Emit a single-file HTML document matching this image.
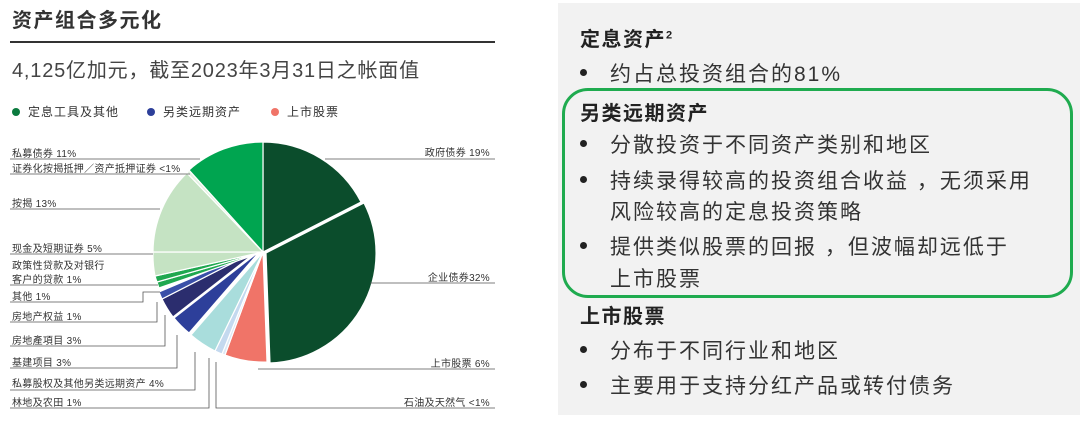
<!DOCTYPE html>
<html><head><meta charset="utf-8"><style>
body{margin:0;width:1080px;height:422px;background:#fff;font-family:"Liberation Sans","Noto Sans CJK SC",sans-serif;overflow:hidden;position:relative}
.a{position:absolute;white-space:nowrap}
.rt{position:absolute;left:558px;top:3px;width:522px;height:412px;background:#f2f2f2}
.h{font-weight:bold;font-size:20px;color:#222;letter-spacing:1.5px}
.b{font-size:21px;color:#333;letter-spacing:2px}
.dot{position:absolute;left:22px;width:7px;height:7px;border-radius:50%;background:#222}
</style></head><body>
<div class="a" style="left:12px;top:4px;font-size:20px;font-weight:bold;color:#333;letter-spacing:1.5px">资产组合多元化</div>
<div class="a" style="left:10px;top:41px;width:485px;height:2px;background:#333"></div>
<div class="a" style="left:12px;top:54px;font-size:20px;color:#444;letter-spacing:0.8px">4,125亿加元，截至2023年3月31日之帐面值</div>
<div class="a" style="left:12px;top:103px;font-size:12px;color:#333;letter-spacing:1px"><span style="display:inline-block;width:8px;height:8px;border-radius:50%;background:#0b7a3e;margin-right:8px"></span>定息工具及其他<span style="display:inline-block;width:8px;height:8px;border-radius:50%;background:#2d3f9a;margin:0 8px 0 28px"></span>另类远期资产<span style="display:inline-block;width:8px;height:8px;border-radius:50%;background:#f07468;margin:0 8px 0 30px"></span>上市股票</div>
<svg class="a" style="left:0;top:0" width="500" height="422" viewBox="0 0 500 422">
<g stroke="#fff" stroke-width="1.2">
<path d="M263,252 L263,142 A110,110 0 0 1 361,202 Z" fill="#0b4d2c"/>
<path d="M266,253 L364,203 A110,110 0 0 1 270,363 Z" fill="#0b4d2c"/>
<path d="M263,252 L267,362 A110,110 0 0 1 225,355 Z" fill="#f07468"/>
<path d="M263,252 L225,355 A110,110 0 0 1 222,354 Z" fill="#dbe8f5"/>
<path d="M263,252 L222,354 A110,110 0 0 1 215,351 Z" fill="#c4d9ef"/>
<path d="M263,252 L215,351 A110,110 0 0 1 191,335 Z" fill="#a9dddc"/>
<path d="M261,250 L189,333 A110,110 0 0 1 174,318 Z" fill="#2d3f9a"/>
<path d="M260,249 L173,317 A110,110 0 0 1 162,299 Z" fill="#2b2d6e"/>
<path d="M260,249 L162,299 A110,110 0 0 1 159,292 Z" fill="#3a4fa8"/>
<path d="M263,252 L159,288 A110,110 0 0 1 157,282 Z" fill="#1fa84f"/>
<path d="M263,252 L157,282 A110,110 0 0 1 155,276 Z" fill="#1fa84f"/>
<path d="M263,252 L155,276 A110,110 0 0 1 153,252 Z" fill="#c5e3c3"/>
<path d="M263,252 L153,252 A110,110 0 0 1 187,173 Z" fill="#c5e3c3"/>
<path d="M263,252 L187,173 A110,110 0 0 1 189,170 Z" fill="#e3f1e1"/>
<path d="M263,252 L189,170 A110,110 0 0 1 263,142 Z" fill="#00a550"/>
</g>
<g stroke="#555" stroke-width="0.8" fill="none">
<path d="M10,159H200M10,174H190M10,209H160M10,254H153M10,285H158M10,302H143V292H160M10,322H157V302M10,346H165V315M10,368H177V335M10,390H195V352M10,408H209V358"/>
<path d="M325,159H495M370,283H495M258,369H495M216,362V408H495"/>
</g>
<g font-size="10" fill="#333" font-family="Liberation Sans,Noto Sans CJK SC,sans-serif" letter-spacing="0.3">
<text x="12" y="157">私募债券 11%</text>
<text x="12" y="172">证券化按揭抵押／资产抵押证券 &lt;1%</text>
<text x="12" y="207">按揭 13%</text>
<text x="12" y="252">现金及短期证券 5%</text>
<text x="12" y="269">政策性贷款及对银行</text>
<text x="12" y="283">客户的贷款 1%</text>
<text x="12" y="300">其他 1%</text>
<text x="12" y="320">房地产权益 1%</text>
<text x="12" y="344">房地產項目 3%</text>
<text x="12" y="366">基建项目 3%</text>
<text x="12" y="387">私募股权及其他另类远期资产 4%</text>
<text x="12" y="406">林地及农田 1%</text>
<text x="490" y="156" text-anchor="end">政府债券 19%</text>
<text x="490" y="281" text-anchor="end">企业债券32%</text>
<text x="490" y="367" text-anchor="end">上市股票 6%</text>
<text x="490" y="406" text-anchor="end">石油及天然气 &lt;1%</text>
</g>
</svg>
<div class="rt">
<div class="a h" style="left:22px;top:20px">定息资产<sup style="font-size:11px">2</sup></div>
<div class="dot" style="top:66px"></div><div class="a b" style="left:52px;top:55px">约占总投资组合的81%</div>
<div class="a" style="left:4px;top:85px;width:505px;height:204px;border:3px solid #1fab4f;border-radius:26px"></div>
<div class="a h" style="left:22px;top:94px">另类远期资产</div>
<div class="dot" style="top:137px"></div><div class="a b" style="left:52px;top:126px">分散投资于不同资产类别和地区</div>
<div class="dot" style="top:173px"></div><div class="a b" style="left:52px;top:162px">持续录得较高的投资组合收益 ，无须采用</div>
<div class="a b" style="left:52px;top:193px">风险较高的定息投资策略</div>
<div class="dot" style="top:239px"></div><div class="a b" style="left:52px;top:228px">提供类似股票的回报 ，但波幅却远低于</div>
<div class="a b" style="left:52px;top:260px">上市股票</div>
<div class="a h" style="left:22px;top:297px">上市股票</div>
<div class="dot" style="top:343px"></div><div class="a b" style="left:52px;top:332px">分布于不同行业和地区</div>
<div class="dot" style="top:378px"></div><div class="a b" style="left:52px;top:367px">主要用于支持分红产品或转付债务</div>
</div>
</body></html>
